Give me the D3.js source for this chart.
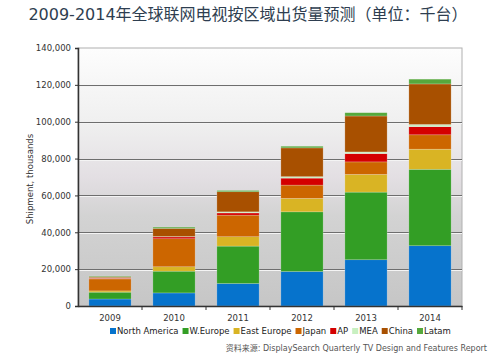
<!DOCTYPE html>
<html lang="zh">
<head>
<meta charset="UTF-8">
<title>联网电视出货量预测</title>
<style>
  body { margin: 0; background: #fff; }
  svg text { font-family: "DejaVu Sans", Verdana, sans-serif; }
</style>
</head>
<body>
<svg id="chart" width="500" height="359"></svg>
<script src="https://d3js.org/d3.v7.min.js"></script>
<script>
// data (thousands of units)
var years = ["2009", "2010", "2011", "2012", "2013", "2014"];
var regions = ["North America", "W.Europe", "East Europe", "Japan", "AP", "MEA", "China", "Latam"];
var northAmerica = [3.8, 7.1, 12.2, 18.7, 25.1, 32.7];
var wEurope      = [3.7, 11.8, 20.3, 32.4, 36.7, 41.5];
var eastEurope   = [0.7, 2.4, 5.1, 7.3, 9.6, 10.9];
var japan        = [6.5, 15.2, 11.7, 7.2, 6.8, 7.8];
var ap           = [0.4, 1.0, 1.2, 3.8, 4.5, 4.4];
var mea          = [0.3, 0.2, 0.6, 0.8, 0.9, 1.2];
var china        = [0.5, 4.4, 10.9, 15.6, 19.5, 22.0];
var latam        = [0.3, 0.7, 0.7, 0.9, 1.8, 2.6];
var yTicks = [0, 20000, 40000, 60000, 80000, 100000, 120000, 140000];

var colors = ["#0673cc", "#339e25", "#d9b424", "#cc6600", "#d40000", "#c8f0c0", "#a85000", "#56a83c"];

var series = [northAmerica, wEurope, eastEurope, japan, ap, mea, china, latam];
var table = years.map(function(y, i) {
  var row = { year: y };
  regions.forEach(function(r, k) { row[r] = series[k][i] * 1000; });
  return row;
});

var svg = d3.select("#chart");
var pLeft = 78, pRight = 462, pTop = 48, pBottom = 306;

var x = d3.scaleBand().domain(years).range([pLeft, pRight]).paddingInner(0.34).paddingOuter(0.17);
var y = d3.scaleLinear().domain([0, 140000]).range([pBottom, pTop]);

// background gradient
var defs = svg.append("defs");
var grad = defs.append("linearGradient").attr("id", "bg").attr("x1", 0).attr("y1", 1).attr("x2", 0).attr("y2", 0);
grad.append("stop").attr("offset", "0%").attr("stop-color", "#c6c6c6");
grad.append("stop").attr("offset", "35%").attr("stop-color", "#d3d3d3");
grad.append("stop").attr("offset", "50%").attr("stop-color", "#e3dfe3");
grad.append("stop").attr("offset", "70%").attr("stop-color", "#efefef");
grad.append("stop").attr("offset", "100%").attr("stop-color", "#fdfdfd");

svg.append("rect")
  .attr("x", pLeft).attr("y", pTop)
  .attr("width", pRight - pLeft).attr("height", pBottom - pTop)
  .attr("fill", "url(#bg)")
  .attr("stroke", "#b0b0b0").attr("stroke-width", 1);

// gridlines
var grid = svg.append("g");
grid.selectAll(".gl").data(yTicks.slice(1, -1)).enter().append("line")
  .attr("x1", pLeft).attr("x2", pRight)
  .attr("y1", function(d) { return Math.round(y(d)) + 0.5; })
  .attr("y2", function(d) { return Math.round(y(d)) + 0.5; })
  .attr("stroke", "#6e6e6e").attr("stroke-width", 1);
grid.selectAll(".gw").data(yTicks.slice(1, -1)).enter().append("line")
  .attr("x1", pLeft).attr("x2", pRight)
  .attr("y1", function(d) { return Math.round(y(d)) + 1.5; })
  .attr("y2", function(d) { return Math.round(y(d)) + 1.5; })
  .attr("stroke", "#f4f4f4").attr("stroke-width", 1);

// stacked bars
var stack = d3.stack().keys(regions)(table);
svg.append("g").selectAll("g").data(stack).enter().append("g")
  .attr("fill", function(d, i) { return colors[i]; })
  .selectAll("rect").data(function(d) { return d; }).enter().append("rect")
    .attr("x", function(d) { return x(d.data.year); })
    .attr("width", x.bandwidth())
    .attr("y", function(d) { return y(d[1]); })
    .attr("height", function(d) { return Math.max(0, y(d[0]) - y(d[1])); })
    .attr("stroke", "rgba(255,255,255,0.35)").attr("stroke-width", 0.6);

// y axis
var yAxis = svg.append("g").attr("transform", "translate(" + pLeft + ",0)")
  .call(d3.axisLeft(y).tickValues(yTicks).tickSize(3).tickPadding(4).tickFormat(d3.format(",")));
yAxis.select(".domain").attr("stroke", "#333").attr("stroke-width", 1.5);
yAxis.selectAll(".tick line").attr("stroke", "#333");
yAxis.selectAll("text").attr("font-size", 8.5).attr("fill", "#333");

// x axis
var xAxis = svg.append("g").attr("transform", "translate(0," + pBottom + ")")
  .call(d3.axisBottom(x).tickSize(0).tickPadding(9));
xAxis.select(".domain").attr("stroke", "#333").attr("stroke-width", 1.5);
xAxis.selectAll("text").attr("font-size", 8.5).attr("fill", "#333");
// tick marks at band boundaries
var step = (pRight - pLeft) / years.length;
xAxis.selectAll(".bt").data(d3.range(1, years.length + 1)).enter().append("line")
  .attr("x1", function(d) { return pLeft + d * step; })
  .attr("x2", function(d) { return pLeft + d * step; })
  .attr("y1", 0).attr("y2", 4)
  .attr("stroke", "#333");

// y axis title
svg.append("text")
  .attr("transform", "translate(33,179) rotate(-90)")
  .attr("text-anchor", "middle")
  .attr("font-size", 8.5).attr("fill", "#333")
  .text("Shipment, thousands");

// title
svg.append("text")
  .attr("x", 248).attr("y", 20)
  .attr("text-anchor", "middle")
  .attr("font-size", 16).attr("fill", "#2e3e50")
  .style("font-family", "'DejaVu Sans', 'Noto Sans CJK SC', sans-serif")
  .text("2009-2014年全球联网电视按区域出货量预测（单位：千台）");

// legend
var legend = svg.append("g").attr("transform", "translate(110,334)");
var lx = 0;
regions.forEach(function(r, i) {
  var g = legend.append("g").attr("transform", "translate(" + lx + ",0)");
  g.append("rect").attr("x", 0).attr("y", -6).attr("width", 6).attr("height", 6).attr("fill", colors[i]);
  var t = g.append("text").attr("x", 7).attr("y", 0).attr("font-size", 8.5).attr("fill", "#222").text(r);
  lx += 7 + t.node().getComputedTextLength() + 4;
});

// source
svg.append("text")
  .attr("x", 487).attr("y", 351)
  .attr("text-anchor", "end")
  .attr("font-size", 8).attr("fill", "#555")
  .style("font-family", "'DejaVu Sans', 'Noto Sans CJK SC', sans-serif")
  .text("资料来源: DisplaySearch Quarterly TV Design and Features Report");
</script>
</body>
</html>
